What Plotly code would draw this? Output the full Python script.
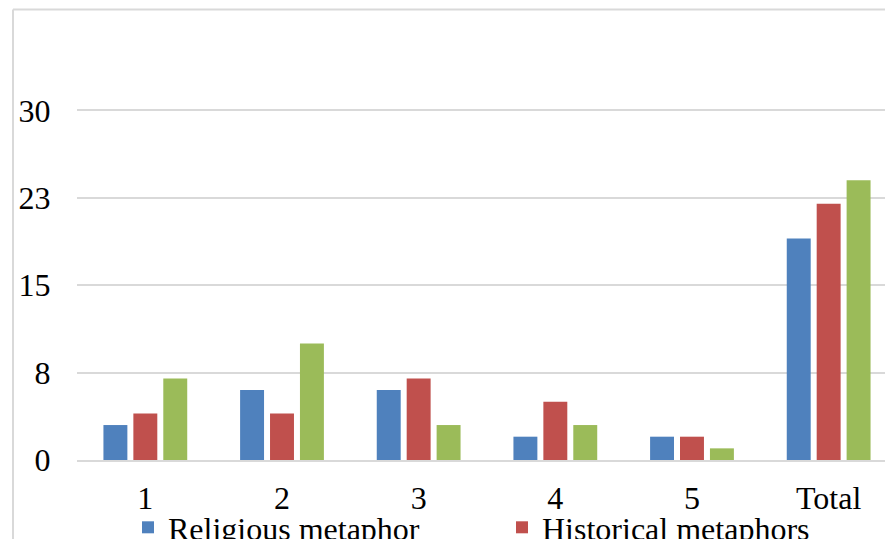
import plotly.graph_objects as go

categories = ["1", "2", "3", "4", "5", "Total"]
religious = [3, 6, 6, 2, 2, 19]
historical = [4, 4, 7, 5, 2, 22]
third = [7, 10, 3, 3, 1, 24]
series_names = ["Religious metaphor", "Historical metaphors", "Other metaphors"]
colors = ["#4F81BD", "#C0504D", "#9BBB59"]
tick_vals = [0, 7.5, 15, 22.5, 30]
tick_text = ["0", "8", "15", "23", "30"]

FONT = "Liberation Serif"
FS = 32

fig = go.Figure()
for name, vals, col, show in zip(series_names, [religious, historical, third], colors, [True, True, False]):
    fig.add_trace(go.Bar(x=categories, y=vals, name=name, marker_color=col,
                         marker_line_width=0, showlegend=show))

# page body adds an 8px offset, so the figure is 8px smaller
W, H = 885, 531
L, T, B = 69, 14.5, 79
plot_w = W - L
plot_h = H - T - B

fig.update_layout(
    width=W, height=H,
    margin=dict(l=L, r=0, t=T, b=B, pad=0, autoexpand=False),
    paper_bgcolor="white", plot_bgcolor="white",
    barmode="group", bargap=0.343, bargroupgap=0.2,
    font=dict(family=FONT, size=FS, color="black"),
    legend=dict(orientation="h", xref="container", x=120 / W, xanchor="left",
                yref="container", y=(H - 492) / H, yanchor="top",
                font=dict(family=FONT, size=FS, color="black"),
                entrywidth=329, entrywidthmode="pixels",
                bgcolor="rgba(0,0,0,0)"),
    xaxis=dict(type="category", range=[-0.5, 5.5 - 4 / 137], showgrid=False,
               showline=True, linecolor="#d9d9d9", linewidth=2,
               ticks="outside", ticklen=9, tickcolor="rgba(0,0,0,0)",
               tickfont=dict(family=FONT, size=FS, color="black"),
               fixedrange=True),
    yaxis=dict(range=[0, 37.5], tickvals=tick_vals, ticktext=tick_text,
               showgrid=True, gridcolor="#d9d9d9", gridwidth=2,
               zeroline=False, showline=False,
               ticks="outside", ticklen=19, tickcolor="rgba(0,0,0,0)",
               tickfont=dict(family=FONT, size=FS, color="black"),
               fixedrange=True),
    shapes=[
        dict(type="line", xref="paper", yref="paper",
             x0=(5 - L) / plot_w, x1=(5 - L) / plot_w,
             y0=(H - B - 1) / plot_h, y1=-0.3,
             line=dict(color="#d9d9d9", width=2)),
        dict(type="line", xref="paper", yref="paper",
             x0=(5 - L) / plot_w, x1=1.1,
             y0=(H - B - 1) / plot_h, y1=(H - B - 1) / plot_h,
             line=dict(color="#d9d9d9", width=2)),
    ],
)

fig.write_html("out.html", config={"displayModeBar": False})
